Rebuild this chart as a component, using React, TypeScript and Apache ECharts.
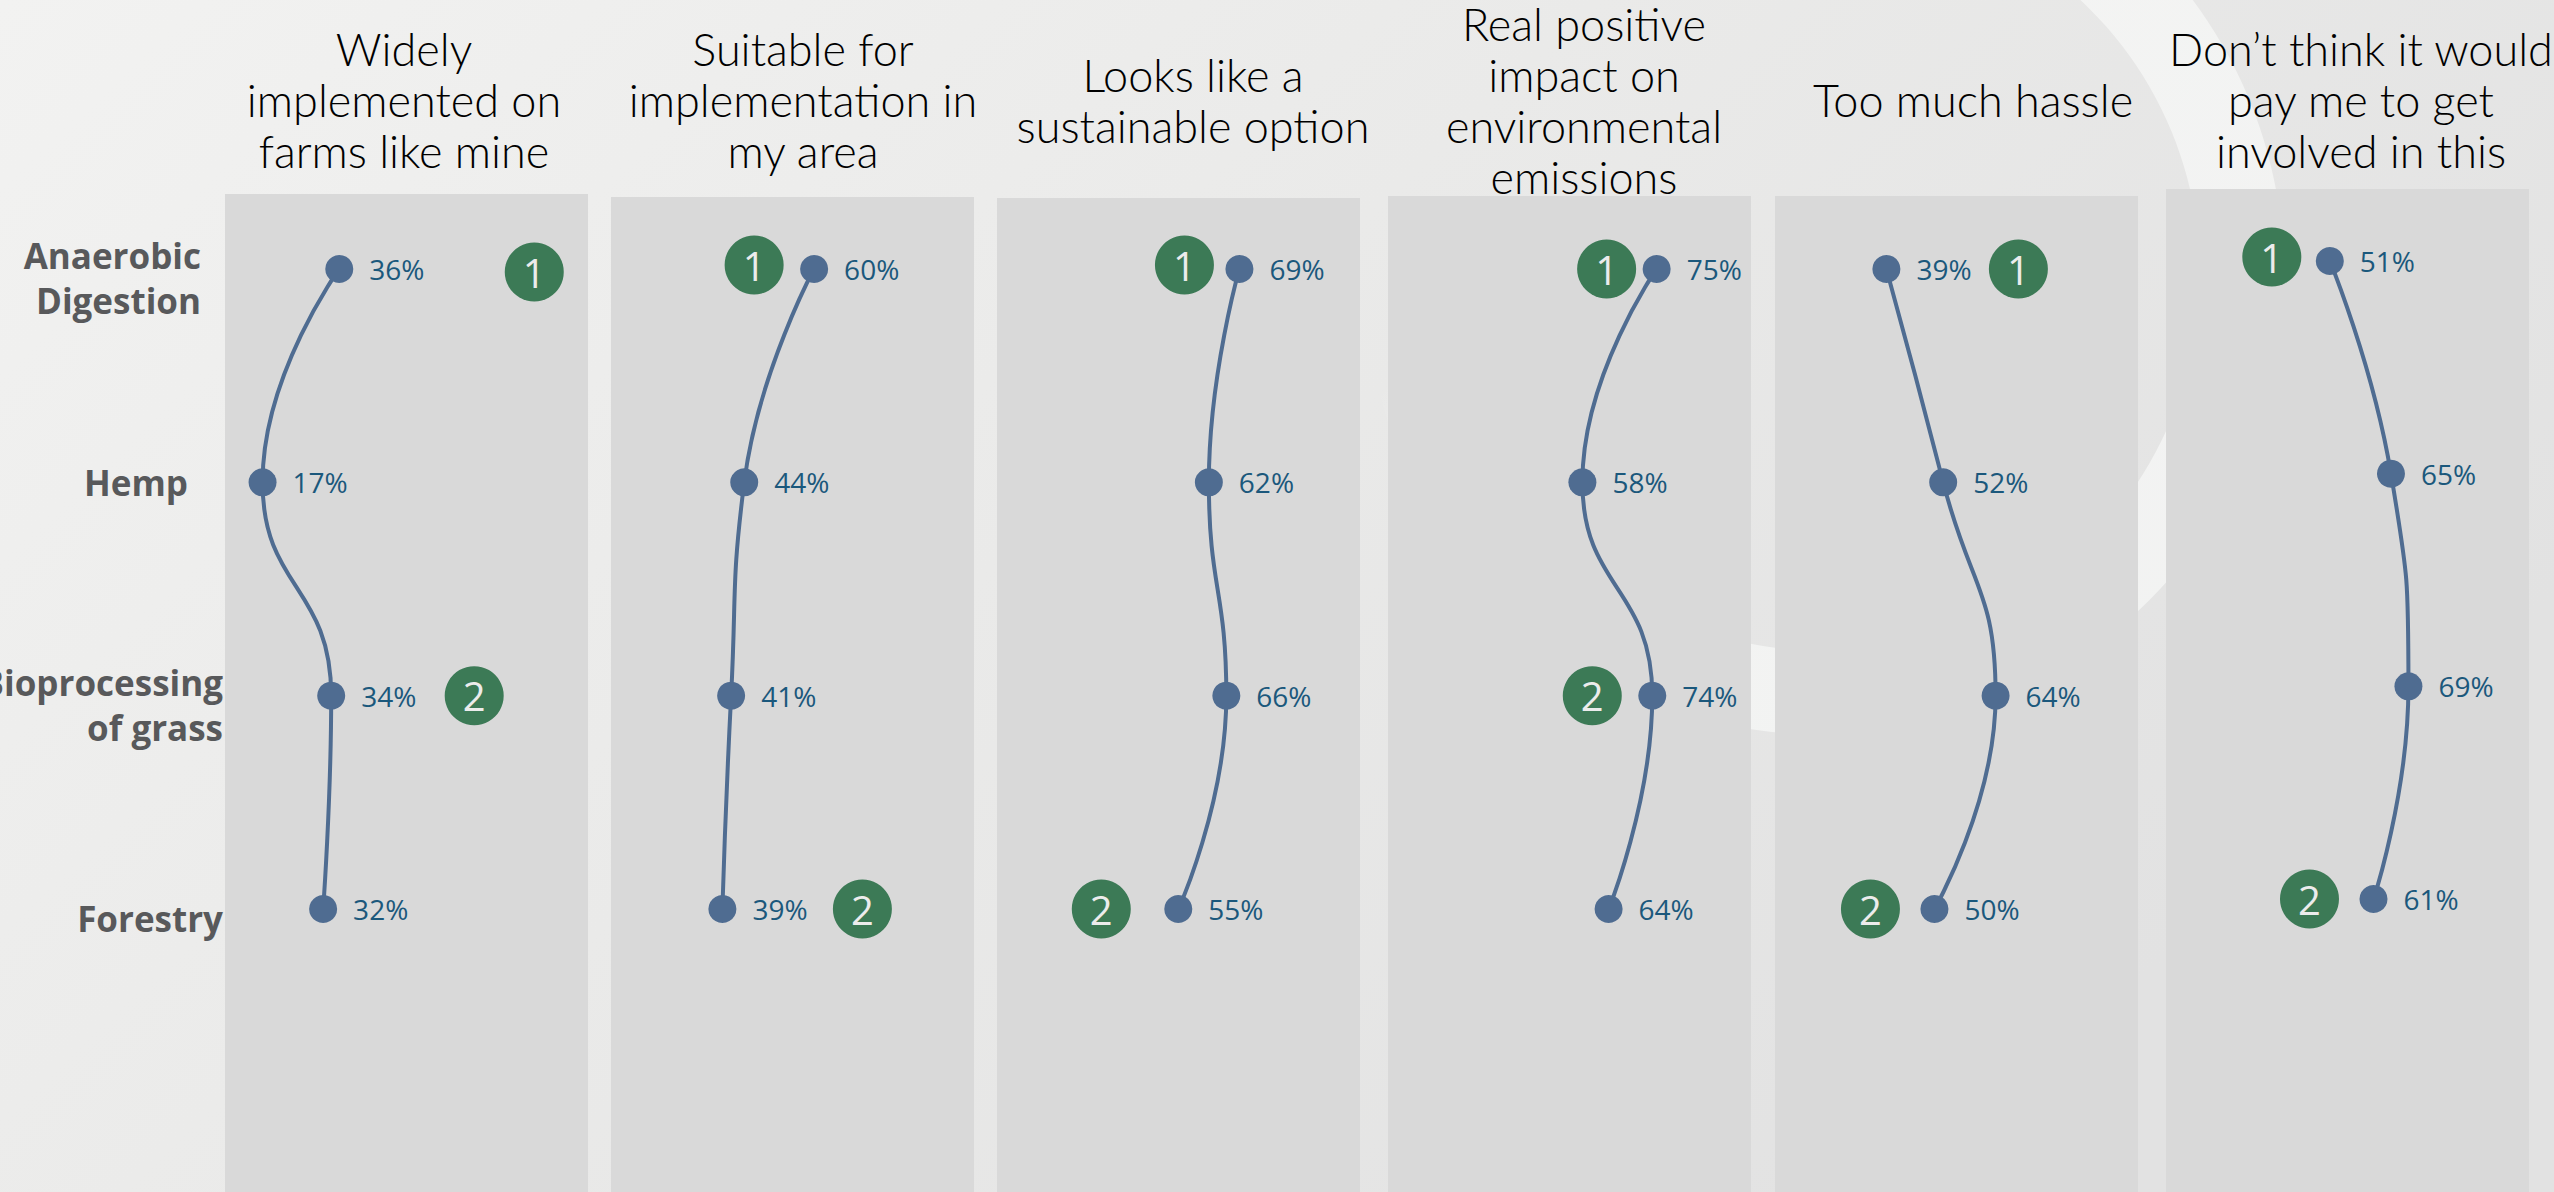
import React, { useEffect, useRef } from "react";
import * as echarts from "echarts";

// ---------- data ----------
const CATEGORIES = ["Anaerobic\nDigestion", "Hemp", "Bioprocessing\nof grass", "Forestry"];
const PANEL_TITLES = [
  "Widely\nimplemented on\nfarms like mine",
  "Suitable for\nimplementation in\nmy area",
  "Looks like a\nsustainable option",
  "Real positive\nimpact on\nenvironmental\nemissions",
  "Too much hassle",
  "Don\u2019t think it would\npay me to get\ninvolved in this",
];
const WIDELY_IMPLEMENTED = [36, 17, 34, 32];
const SUITABLE_IN_AREA = [60, 44, 41, 39];
const SUSTAINABLE_OPTION = [69, 62, 66, 55];
const ENVIRONMENTAL_IMPACT = [75, 58, 74, 64];
const TOO_MUCH_HASSLE = [39, 52, 64, 50];
const WOULD_NOT_PAY = [51, 65, 69, 61];
const PANEL_VALUES = [
  WIDELY_IMPLEMENTED,
  SUITABLE_IN_AREA,
  SUSTAINABLE_OPTION,
  ENVIRONMENTAL_IMPACT,
  TOO_MUCH_HASSLE,
  WOULD_NOT_PAY,
];
// row index (category) carrying rank badge "1" and "2" in each panel
const RANK1_ROW = [0, 0, 0, 0, 0, 0];
const RANK2_ROW = [2, 3, 3, 2, 3, 3];

// ---------- layout / style ----------
const W = 2554;
const H = 1192;
const PANEL_LEFT = [225, 611, 997, 1388, 1775, 2166];
const PANEL_W = 363;
const PANEL_TOP = [194, 197, 198, 196, 196, 189];
const ROW_TOP = [269, 269, 269, 269, 269, 261];
const ROW_SPAN = [640, 640, 640, 640, 640, 638];
const AXIS_RANGE = [
  [7.7, 97.6],
  [13.5, 96.6],
  [13.5, 96.6],
  [13.5, 96.6],
  [13.5, 96.6],
  [13.5, 96.6],
];
const TITLE_X = [404, 803, 1193, 1584, 1973, 2361];
const TITLE_MID_Y = 100;
const TITLE_LINE_H = 51;
// pixel offsets of the rank badges from their dot
const BADGE1_OFFSET = [[195, 3], [-60, -4], [-55, -4], [-50, 0], [132, 0], [-58, -4]];
const BADGE2_OFFSET = [[143, 0], [140, 0], [-77, 0], [-60, 0], [-64, 0], [-64, 0]];

const LINE_COLOR = "#4f6c91";
const VALUE_COLOR = "#1b587c";
const BADGE_COLOR = "#3c7a56";
const PANEL_COLOR = "#d9d9d9";
const ROW_LABEL_COLOR = "#58595b";

const rowLabelRich = (padRight: number, padBottom: number) => ({
  fontFamily: "Open Sans",
  fontWeight: "bold" as const,
  fontSize: 35,
  lineHeight: 45,
  color: ROW_LABEL_COLOR,
  padding: [0, padRight, padBottom, 0],
});

export default function App() {
  const ref = useRef<HTMLDivElement>(null);

  useEffect(() => {
    if (!ref.current) return;
    const chart = echarts.init(ref.current, null, { renderer: "svg" });

    const grids: any[] = [];
    const xAxes: any[] = [];
    const yAxes: any[] = [];
    const series: any[] = [];
    const titles: any[] = [];
    const graphics: any[] = [];

    graphics.push({
      type: "rect",
      shape: { x: 0, y: 0, width: W, height: H },
      style: {
        fill: new echarts.graphic.LinearGradient(0, 0, 1, 0.5, [
          { offset: 0, color: "#f2f2f1" },
          { offset: 0.5, color: "#eaeae9" },
          { offset: 1, color: "#e2e2e2" },
        ]),
      },
      silent: true,
    });
    graphics.push({
      type: "ring",
      shape: { cx: 1824, cy: 275, r: 460, r0: 376 },
      style: {
        fill: new echarts.graphic.LinearGradient(0, 0, 1, 1, [
          { offset: 0, color: "rgba(248,249,248,0)" },
          { offset: 0.32, color: "rgba(248,249,248,0)" },
          { offset: 0.48, color: "rgba(248,249,248,0.7)" },
          { offset: 1, color: "rgba(248,249,248,0.7)" },
        ]),
      },
      silent: true,
    });

    PANEL_VALUES.forEach((vals, i) => {
      graphics.push({
        type: "rect",
        shape: { x: PANEL_LEFT[i], y: PANEL_TOP[i], width: PANEL_W, height: H - PANEL_TOP[i] },
        style: { fill: PANEL_COLOR },
        silent: true,
      });

      const lines = PANEL_TITLES[i].split("\n").length;
      titles.push({
        text: PANEL_TITLES[i],
        left: TITLE_X[i],
        top: TITLE_MID_Y - (lines * TITLE_LINE_H) / 2,
        textAlign: "center",
        padding: 0,
        textStyle: {
          fontFamily: "Lato",
          fontWeight: 300,
          fontSize: 45,
          lineHeight: TITLE_LINE_H,
          color: "#000000",
        },
      });

      grids.push({
        left: PANEL_LEFT[i],
        width: PANEL_W,
        top: ROW_TOP[i],
        height: ROW_SPAN[i],
        containLabel: false,
        outerBoundsMode: "none",
      });
      xAxes.push({
        type: "value",
        gridIndex: i,
        min: AXIS_RANGE[i][0],
        max: AXIS_RANGE[i][1],
        show: false,
      });
      yAxes.push({
        type: "category",
        gridIndex: i,
        data: CATEGORIES,
        inverse: true,
        boundaryGap: false,
        axisLine: { show: false },
        axisTick: { show: false },
        splitLine: { show: false },
        axisLabel:
          i === 0
            ? {
                show: true,
                margin: 2,
                padding: [18, 0, 0, 0],
                formatter: (v: string, idx: number) =>
                  v
                    .split("\n")
                    .map((l) => `{r${idx}|${l}}`)
                    .join("\n"),
                rich: {
                  r0: rowLabelRich(22, 0),
                  r1: rowLabelRich(35, 18),
                  r2: rowLabelRich(0, 0),
                  r3: rowLabelRich(0, 0),
                },
              }
            : { show: false },
      });

      series.push({
        type: "line",
        xAxisIndex: i,
        yAxisIndex: i,
        data: vals,
        smooth: 0.5,
        symbol: "circle",
        symbolSize: 28,
        lineStyle: { color: LINE_COLOR, width: 4 },
        itemStyle: { color: LINE_COLOR },
        label: {
          show: true,
          position: "right",
          distance: 16,
          formatter: (p: any) => `${p.value}%`,
          fontFamily: "Open Sans",
          fontSize: 28,
          color: VALUE_COLOR,
        },
        z: 3,
      });

      const r1 = RANK1_ROW[i];
      const r2 = RANK2_ROW[i];
      series.push({
        type: "scatter",
        xAxisIndex: i,
        yAxisIndex: i,
        symbol: "circle",
        symbolSize: 59,
        itemStyle: { color: BADGE_COLOR, opacity: 1 },
        label: {
          show: true,
          position: "inside",
          fontFamily: "Open Sans",
          fontSize: 40,
          color: "#ececec",
        },
        data: [
          {
            value: [vals[r1], r1],
            symbolOffset: BADGE1_OFFSET[i],
            label: { formatter: "1" },
          },
          {
            value: [vals[r2], r2],
            symbolOffset: BADGE2_OFFSET[i],
            label: { formatter: "2" },
          },
        ],
        z: 4,
      });
    });

    chart.setOption({
      animation: false,
      graphic: graphics,
      title: titles,
      grid: grids,
      xAxis: xAxes,
      yAxis: yAxes,
      series,
    });

    return () => chart.dispose();
  }, []);

  return (
    <div
      ref={ref}
      style={{ position: "absolute", left: 0, top: 0, width: W, height: H }}
    />
  );
}
